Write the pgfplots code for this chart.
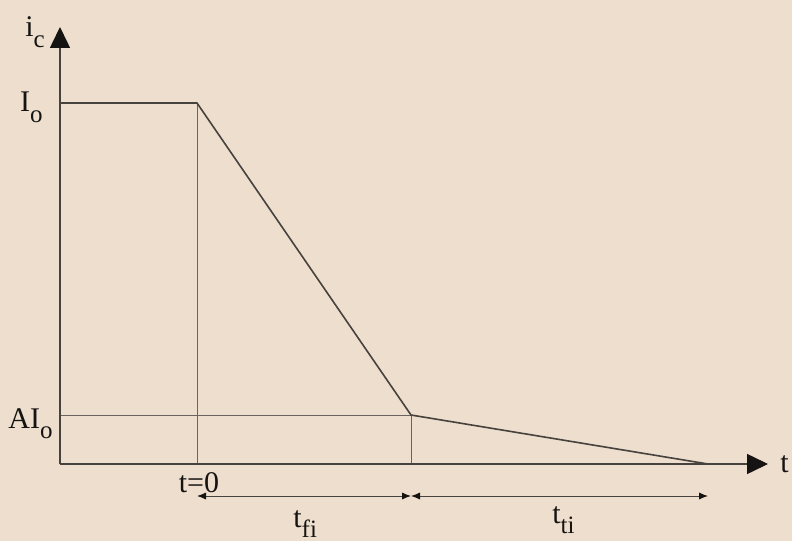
\documentclass[border=0pt]{standalone}
\usepackage{fontspec}
\setmainfont{Liberation Serif}
\usepackage{pgfplots}
\pgfplotsset{compat=1.18}
\usetikzlibrary{arrows.meta}
\definecolor{bg}{RGB}{238,222,206}
\definecolor{ink}{RGB}{22,20,18}
\definecolor{wave}{RGB}{70,66,62}
\definecolor{guide}{RGB}{105,100,95}
\newcommand{\sub}[1]{\raisebox{-0.35em}{\fontsize{12.5}{12.5}\selectfont #1}}
\begin{document}
\begin{tikzpicture}[font=\fontsize{15}{17}\selectfont]
\begin{axis}[
  scale only axis, width=354pt, height=218.5pt,
  xmin=0, xmax=708, ymin=0, ymax=437,
  hide axis, clip=false,
]
% background
\fill[bg] (axis cs:-60,-77) rectangle (axis cs:732,464);
% guide lines
\addplot[guide, line width=0.45pt] coordinates {(137,0) (137,361)};
\addplot[guide, line width=0.45pt] coordinates {(0,49) (351,49)};
\addplot[guide, line width=0.45pt] coordinates {(351,0) (351,49)};
% collector current
\addplot[wave, line width=0.8pt] coordinates {(0,361) (137,361) (351,49) (648,0)};
% axes
\draw[wave, line width=0.75pt, -{Triangle[length=10.5pt,width=10pt,color=ink]}] (axis cs:0,0) -- (axis cs:708,0);
\draw[wave, line width=0.75pt, -{Triangle[length=10.5pt,width=10pt,color=ink]}] (axis cs:0,0) -- (axis cs:0,437);
% interval arrows
\draw[wave, line width=0.5pt, {Latex[length=4.5pt,width=3.6pt,color=ink]}-{Latex[length=4.5pt,width=3.6pt,color=ink]}] (axis cs:137,-32) -- (axis cs:351,-32);
\draw[wave, line width=0.5pt, {Latex[length=4.5pt,width=3.6pt,color=ink]}-{Latex[length=4.5pt,width=3.6pt,color=ink]}] (axis cs:351,-32) -- (axis cs:648,-32);
% labels
\node[ink, anchor=base west, inner sep=0] at (axis cs:-35,427) {i\sub{c}};
\node[ink, anchor=base east, inner sep=0] at (axis cs:-17,352) {I\sub{o}};
\node[ink, anchor=base east, inner sep=0] at (axis cs:-7,36) {AI\sub{o}};
\node[ink, anchor=base, inner sep=0] at (axis cs:139,-28) {t=0};
\node[ink, anchor=base west, inner sep=0] at (axis cs:233,-63) {t\sub{fi}};
\node[ink, anchor=base west, inner sep=0] at (axis cs:492,-59) {t\sub{ti}};
\node[ink, anchor=base west, inner sep=0] at (axis cs:720,-8) {t};
\end{axis}
\end{tikzpicture}
\end{document}
